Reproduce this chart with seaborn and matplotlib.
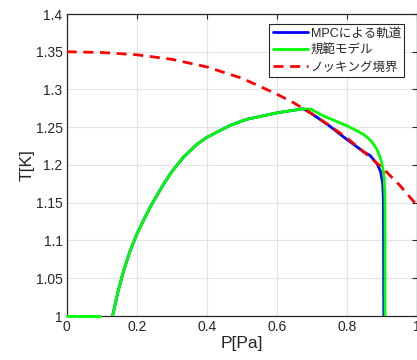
import matplotlib
matplotlib.use("Agg")
import matplotlib.pyplot as plt
import seaborn as sns
import pandas as pd
from matplotlib.lines import Line2D

# ---- data ----
rise_P = [0.131, 0.147, 0.162, 0.181, 0.200, 0.224, 0.243, 0.276, 0.300, 0.333,
          0.371, 0.400, 0.467, 0.514, 0.600, 0.676]
rise_T = [1.000, 1.033, 1.059, 1.086, 1.108, 1.131, 1.148, 1.174, 1.191, 1.210,
          1.227, 1.2365, 1.2525, 1.2605, 1.2690, 1.2745]

mpc_tail_P = [0.700, 0.750, 0.800, 0.850, 0.867, 0.887, 0.897, 0.903, 0.905, 0.906]
mpc_tail_T = [1.268, 1.252, 1.234, 1.217, 1.2125, 1.2016, 1.191, 1.175, 1.150, 1.000]

ref_tail_P = [0.700, 0.733, 0.765, 0.800, 0.830, 0.850, 0.865, 0.876, 0.886, 0.895,
              0.901, 0.905, 0.907, 0.909, 0.9095, 0.9095]
ref_tail_T = [1.2735, 1.265, 1.259, 1.252, 1.245, 1.240, 1.234, 1.228, 1.221, 1.211,
              1.201, 1.191, 1.182, 1.160, 1.130, 1.000]

ref_flat_P = [0.0, 0.095]
ref_flat_T = [1.0, 1.0]

knock_P = [0.0, 0.1, 0.2, 0.3, 0.4, 0.5, 0.6, 0.65, 0.7, 0.75, 0.8, 0.85, 0.9, 0.95, 1.0]
knock_T = [1.350, 1.349, 1.346, 1.340, 1.330, 1.315, 1.294, 1.282, 1.268, 1.2526,
           1.236, 1.2168, 1.197, 1.174, 1.147]

labels = ["MPCによる軌道", "規範モデル", "ノッキング境界"]
x_ticks = [0, 0.2, 0.4, 0.6, 0.8, 1.0]
x_ticklabels = ["0", "0.2", "0.4", "0.6", "0.8", "1"]
y_ticks = [1, 1.05, 1.1, 1.15, 1.2, 1.25, 1.3, 1.35, 1.4]
y_ticklabels = ["1", "1.05", "1.1", "1.15", "1.2", "1.25", "1.3", "1.35", "1.4"]

# ---- style ----
sns.set_theme(style="white")
plt.rcParams['font.family'] = ['Liberation Sans', 'Noto Sans CJK JP', 'DejaVu Sans']
plt.rcParams['axes.unicode_minus'] = False

fig = plt.figure(figsize=(4.17, 3.6), dpi=100)
ax = fig.add_axes([66.7 / 417, 1 - 316 / 360, 350 / 417, 302 / 360])

blue = "#0000ff"
green = "#00ff00"
red = "#ff0000"
lw = 2.0
dash = (0, (3.6, 2.4))

mpc_df = pd.DataFrame({"P": rise_P + mpc_tail_P, "T": rise_T + mpc_tail_T})
ref_df = pd.DataFrame({"P": rise_P + ref_tail_P, "T": rise_T + ref_tail_T})
flat_df = pd.DataFrame({"P": ref_flat_P, "T": ref_flat_T})
knock_df = pd.DataFrame({"P": knock_P, "T": knock_T})

sns.lineplot(data=mpc_df, x="P", y="T", sort=False, estimator=None, color=blue, lw=lw, ax=ax, zorder=3)
sns.lineplot(data=ref_df, x="P", y="T", sort=False, estimator=None, color=green, lw=lw, ax=ax, zorder=4)
sns.lineplot(data=flat_df, x="P", y="T", sort=False, estimator=None, color=green, lw=lw, ax=ax, zorder=4, clip_on=False)
sns.lineplot(data=knock_df, x="P", y="T", sort=False, estimator=None, color=red, lw=lw, ax=ax, zorder=5,
             dashes=False, linestyle=dash)

ax.set_xlim(0, 1)
ax.set_ylim(1, 1.4)
ax.set_xticks(x_ticks)
ax.set_xticklabels(x_ticklabels)
ax.set_yticks(y_ticks)
ax.set_yticklabels(y_ticklabels)
ax.grid(True, color="#e3e3e3", linewidth=0.8)
ax.set_axisbelow(True)
for s in ax.spines.values():
    s.set_color("#262626")
    s.set_linewidth(0.9)
    s.set_visible(True)
ax.tick_params(direction="in", length=3.5, width=0.8, colors="#262626", labelsize=10,
               top=True, right=True, labelcolor="#262626", pad=3)
ax.set_xlabel("P[Pa]", fontsize=12.5, color="#262626", labelpad=1)
ax.set_ylabel("T[K]", fontsize=12.5, color="#262626", labelpad=0.5)

handles = [Line2D([], [], color=blue, lw=lw),
           Line2D([], [], color=green, lw=lw),
           Line2D([], [], color=red, lw=lw, linestyle=dash)]
leg = ax.legend(handles, labels, loc="upper right", bbox_to_anchor=(0.964, 0.966),
                fontsize=9, frameon=True, fancybox=False, framealpha=1,
                edgecolor="#262626", borderpad=0.25, labelspacing=0.4,
                handlelength=2.8, handletextpad=0.25, borderaxespad=0)
leg.get_frame().set_linewidth(0.8)

fig.savefig("out.png", dpi=100)
